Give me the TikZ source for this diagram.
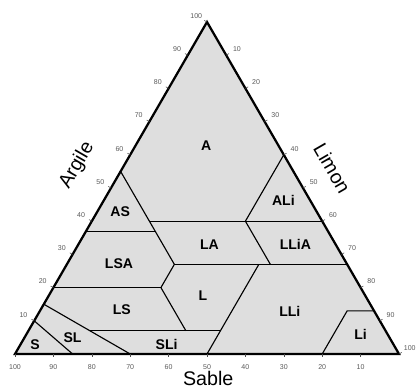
\documentclass[tikz,border=0pt]{standalone}
\usepackage{fontspec}
\setmainfont{Liberation Sans}
\usetikzlibrary{calc}

\begin{document}
\begin{tikzpicture}
        [texture/.style={font=\fontsize{10}{12}\selectfont\bfseries,inner sep=1pt},
        axisname/.style={font=\fontsize{14}{16}\selectfont,inner sep=0pt},
        graduation/.style={font=\fontsize{5}{6}\selectfont,text=black!65,inner sep=0pt},
        tickmark/.style={draw=black!70,line width=0.4pt},
        boundary/.style={draw=black,line width=0.8pt},
        frame/.style={draw=black,line width=1.6pt,line join=miter}]
        \useasboundingbox (-0.375,-0.85) rectangle (10.05,8.85);
        % corners: A = argile, L = limon, S = sable
        \coordinate (S) at (0,0);
        \coordinate (L) at (9.6,0);
        \coordinate (A) at (4.8,8.3);
        \fill[black!13] (S) -- (L) -- (A) -- cycle;
        % class boundaries
        \coordinate (a55) at (barycentric cs:A=.55,L=0,S=.45);
        \coordinate (a37) at (barycentric cs:A=.37,L=0,S=.63);
        \coordinate (p37) at (barycentric cs:A=.37,L=.18,S=.45);
        \coordinate (p40) at (barycentric cs:A=.40,L=.15,S=.45);
        \coordinate (q40) at (barycentric cs:A=.40,L=.40,S=.20);
        \coordinate (r40) at (barycentric cs:A=.40,L=.60,S=0);
        \coordinate (r60) at (barycentric cs:A=.60,L=.40,S=0);
        \coordinate (p27) at (barycentric cs:A=.27,L=.28,S=.45);
        \coordinate (q27) at (barycentric cs:A=.27,L=.50,S=.23);
        \coordinate (s27) at (barycentric cs:A=.27,L=.53,S=.20);
        \coordinate (r27) at (barycentric cs:A=.27,L=.73,S=0);
        \coordinate (a20) at (barycentric cs:A=.20,L=0,S=.80);
        \coordinate (p20) at (barycentric cs:A=.20,L=.28,S=.52);
        \coordinate (o07) at (barycentric cs:A=.07,L=.16,S=.77);
        \coordinate (p07) at (barycentric cs:A=.07,L=.41,S=.52);
        \coordinate (q07) at (barycentric cs:A=.07,L=.50,S=.43);
        \coordinate (b50) at (barycentric cs:A=0,L=.50,S=.50);
        \coordinate (a15) at (barycentric cs:A=.15,L=0,S=.85);
        \coordinate (b30) at (barycentric cs:A=0,L=.30,S=.70);
        \coordinate (a10) at (barycentric cs:A=.10,L=0,S=.90);
        \coordinate (b15) at (barycentric cs:A=0,L=.15,S=.85);
        \coordinate (b80) at (barycentric cs:A=0,L=.80,S=.20);
        \coordinate (q13) at (barycentric cs:A=.13,L=.80,S=.07);
        \coordinate (r13) at (barycentric cs:A=.13,L=.87,S=0);
        \draw[boundary] (a55) -- (p27);
        \draw[boundary] (a37) -- (p37);
        \draw[boundary] (p40) -- (r40);
        \draw[boundary] (r60) -- (q40) -- (s27);
        \draw[boundary] (p27) -- (r27);
        \draw[boundary] (p27) -- (p20) -- (p07);
        \draw[boundary] (a20) -- (p20);
        \draw[boundary] (q27) -- (b50);
        \draw[boundary] (o07) -- (q07);
        \draw[boundary] (a15) -- (b30);
        \draw[boundary] (a10) -- (b15);
        \draw[boundary] (b80) -- (q13) -- (r13);
        \draw[frame] (S) -- (L) -- (A) -- cycle;
        % graduations
        \foreach \v [evaluate=\v as \f using \v/100, evaluate=\v as \g using 1-\v/100] in {10,20,...,100} {
            \coordinate (ga\v) at (barycentric cs:A=\f,L=0,S=\g);
            \coordinate (gl\v) at (barycentric cs:A=\g,L=\f,S=0);
            \coordinate (gs\v) at (barycentric cs:A=0,L=\g,S=\f);
            \draw[tickmark] (ga\v) -- ++(150:0.08);
            \draw[tickmark] (gl\v) -- ++(30:0.08);
            \draw[tickmark] (gs\v) -- ++(270:0.08);
            \node[graduation] (na\v) at ($(ga\v)+(150:0.31)$) {\v};
            \node[graduation] (nl\v) at ($(gl\v)+(30:0.31)$) {\v};
            \node[graduation] (ns\v) at ($(gs\v)+(270:0.32)$) {\v};
        }
        % classes
        \node[texture] (cA) at (4.78,5.2) {A};
        \node[texture] (cAS) at (2.63,3.55) {AS};
        \node[texture] (cALi) at (6.71,3.85) {ALi};
        \node[texture] (cLA) at (4.86,2.74) {LA};
        \node[texture] (cLLiA) at (7.01,2.74) {LLiA};
        \node[texture] (cLSA) at (2.6,2.27) {LSA};
        \node[texture] (cL) at (4.7,1.47) {L};
        \node[texture] (cLS) at (2.67,1.12) {LS};
        \node[texture] (cLLi) at (6.87,1.06) {LLi};
        \node[texture] (cLi) at (8.64,0.5) {Li};
        \node[texture] (cS) at (0.5,0.23) {S};
        \node[texture] (cSL) at (1.44,0.41) {SL};
        \node[texture] (cSLi) at (3.79,0.25) {SLi};
        % axis names
        \node[axisname,rotate=60] (argile) at (1.55,4.72) {Argile};
        \node[axisname,rotate=-60] (limon) at (7.93,4.64) {Limon};
        \node[axisname] (sable) at (4.83,-0.6) {Sable};
\end{tikzpicture}
\end{document}
